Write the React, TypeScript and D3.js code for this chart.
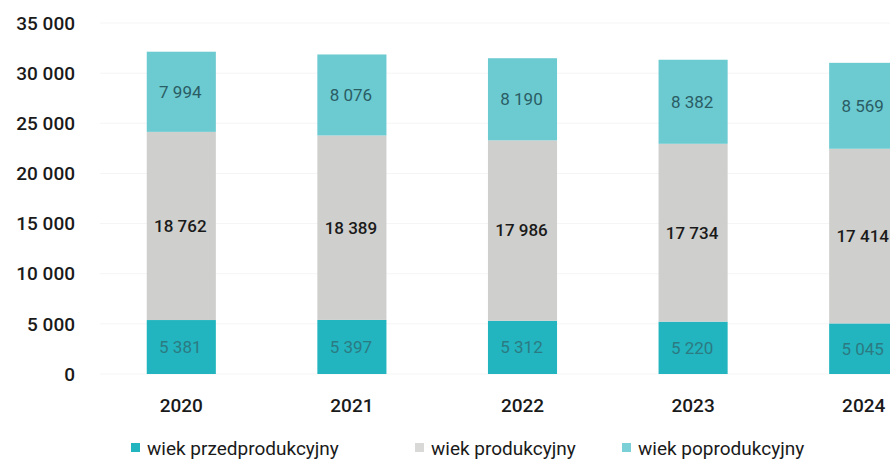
import React from "react";
import * as d3 from "d3";

const years = ["2020", "2021", "2022", "2023", "2024"];
const przedprodukcyjny = [5381, 5397, 5312, 5220, 5045];
const produkcyjny = [18762, 18389, 17986, 17734, 17414];
const poprodukcyjny = [7994, 8076, 8190, 8382, 8569];
const yTicks = [0, 5000, 10000, 15000, 20000, 25000, 30000, 35000];
const seriesNames = ["wiek przedprodukcyjny", "wiek produkcyjny", "wiek poprodukcyjny"];

const W = 890;
const H = 459;
const FONT = "Roboto, 'Open Sans', sans-serif";

const fmt = (v: number) => {
  const s = String(v);
  return s.replace(/\B(?=(\d{3})+(?!\d))/g, " ");
};

export default function App() {
  const y = d3.scaleLinear().domain([0, 35000]).range([374, 23]);
  const x = d3.scaleBand<string>().domain(years).range([96, 949]).paddingInner(0.595).paddingOuter(0.2975);

  const rows = years.map((yr, i) => ({
    year: yr,
    a: przedprodukcyjny[i],
    b: produkcyjny[i],
    c: poprodukcyjny[i],
  }));
  const stack = d3.stack<any>().keys(["a", "b", "c"]);
  const series = stack(rows);
  const fills = ["#22b5bf", "#cfcfcd", "#6ccad1"];
  const labelColors = ["#2c7a82", "#1a1a1a", "#2a5d64"];
  const legendFills = ["#22b5bf", "#d9d9d8", "#7bcfd6"];
  const legendX = [131, 415, 622];

  return (
    <svg width={W} height={H} style={{ position: "absolute", left: 0, top: 0, background: "#fff" }} fontFamily={FONT}>
      {yTicks.map((t) => (
        <g key={t}>
          <line x1={100} x2={W} y1={y(t)} y2={y(t)} stroke="#f5f5f5" strokeWidth={1} />
          <text x={75} y={y(t)} dy="0.35em" textAnchor="end" fontSize={19} fontWeight={500} fill="#1a1a1a">
            {fmt(t)}
          </text>
        </g>
      ))}
      {series.map((s, si) => (
        <g key={si}>
          {s.map((d: any, i: number) => {
            const x0 = x(d.data.year)!;
            const y0 = y(d[1]);
            const h = y(d[0]) - y(d[1]);
            return (
              <g key={i}>
                <rect x={x0} y={y0} width={x.bandwidth()} height={h} fill={fills[si]} />
                <text
                  x={x0 + x.bandwidth() / 2 - 1}
                  y={y0 + h / 2}
                  dy="0.35em"
                  textAnchor="middle"
                  fontSize={17}
                  fontWeight={si === 1 ? 500 : 400}
                  fill={labelColors[si]}
                >
                  {fmt(d[1] - d[0])}
                </text>
              </g>
            );
          })}
        </g>
      ))}
      {years.map((yr) => (
        <text key={yr} x={x(yr)! + x.bandwidth() / 2} y={405} dy="0.35em" textAnchor="middle" fontSize={19} fontWeight={500} fill="#1a1a1a">
          {yr}
        </text>
      ))}
      {seriesNames.map((n, i) => (
        <g key={n}>
          <rect x={legendX[i]} y={443} width={9} height={9} fill={legendFills[i]} />
          <text x={legendX[i] + 16} y={448} dy="0.35em" fontSize={19} fontWeight={400} fill="#1a1a1a">
            {n}
          </text>
        </g>
      ))}
    </svg>
  );
}
